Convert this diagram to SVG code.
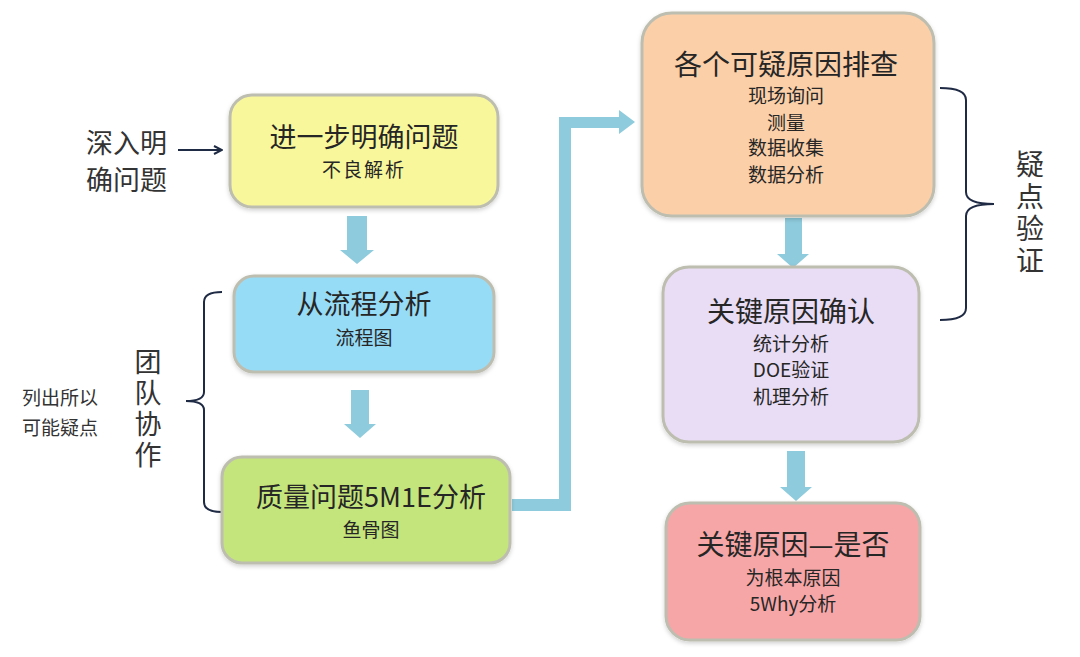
<svg xmlns="http://www.w3.org/2000/svg" width="1080" height="657" viewBox="0 0 1080 657">
<defs>
<style>
.box{stroke:#bdbdb0;stroke-width:3;}
.t{font-family:"Noto Sans CJK SC","Liberation Sans",sans-serif;fill:#262626;text-anchor:middle;}
.h{font-size:27px;}
.s{font-size:19px;}
.side{font-family:"Noto Sans CJK SC","Liberation Sans",sans-serif;fill:#333;}
.vert{writing-mode:vertical-rl;}
.flow{fill:#8ecbdc;}
.br{fill:none;stroke:#1f2a44;stroke-width:2;}
</style>
<filter id="sh" x="-10%" y="-10%" width="120%" height="130%">
<feDropShadow dx="0" dy="2" stdDeviation="2" flood-color="#000" flood-opacity="0.18"/>
</filter>
<marker id="nav" markerWidth="10" markerHeight="10" refX="9" refY="5" orient="auto" markerUnits="userSpaceOnUse">
<path d="M1,1 L9,5 L1,9" fill="none" stroke="#1f2a44" stroke-width="2"/>
</marker>
</defs>
<rect width="1080" height="657" fill="#ffffff"/>

<g id="connectors">
<line x1="178" y1="150" x2="222" y2="150" stroke="#1f2a44" stroke-width="2" marker-end="url(#nav)"/>
<path class="flow" d="M347,216 H367 V250 H374 L357,264 L340,250 H347 Z"/>
<path class="flow" d="M351,390 H369 V424 H376 L360,438 L344,424 H351 Z"/>
<path class="flow" d="M512,499 H559 V117 H619 V110 L635,122 L619,134 V128 H571 V511 H512 Z"/>
<path class="flow" d="M785,218 H802 V254 H809 L793,268 L777,254 H785 Z"/>
<path class="flow" d="M787,451 H805 V487 H812 L796,501 L780,487 H787 Z"/>
<path class="br" d="M222,292 Q204,292 204,302 V392 Q204,401 186,401 Q204,401 204,410 V502 Q204,512 222,512"/>
<path class="br" d="M940,88 Q966,88 966,100 V192 Q966,204 994,204 Q966,204 966,216 V308 Q966,320 940,320"/>
</g>

<g id="n1">
<rect class="box" x="230" y="95" width="268" height="112" rx="22" fill="#f8f79c" filter="url(#sh)"/>
<text class="t h" x="364" y="147">进一步明确问题</text>
<text class="t s" x="364" y="177" letter-spacing="2">不良解析</text>
</g>

<g id="n2">
<rect class="box" x="234" y="276" width="260" height="96" rx="20" fill="#97dcf6" filter="url(#sh)"/>
<text class="t h" x="364" y="314">从流程分析</text>
<text class="t s" x="364" y="345">流程图</text>
</g>

<g id="n3">
<rect class="box" x="222" y="457" width="288" height="106" rx="20" fill="#c4e47c" filter="url(#sh)"/>
<text class="t h" x="371" y="507">质量问题5M1E分析</text>
<text class="t s" x="371" y="537">鱼骨图</text>
</g>

<g id="n4">
<rect class="box" x="642" y="13" width="292" height="203" rx="30" fill="#fbcfa8" filter="url(#sh)"/>
<text class="t" x="786" y="75" font-size="28">各个可疑原因排查</text>
<text class="t s" x="786" y="103">现场询问</text>
<text class="t s" x="786" y="130">测量</text>
<text class="t s" x="786" y="155">数据收集</text>
<text class="t s" x="786" y="182">数据分析</text>
</g>

<g id="n5">
<rect class="box" x="663" y="267" width="256" height="175" rx="26" fill="#e8ddf4" filter="url(#sh)"/>
<text class="t" x="791" y="322" font-size="28">关键原因确认</text>
<text class="t s" x="791" y="351">统计分析</text>
<text class="t s" x="791" y="377">DOE验证</text>
<text class="t s" x="791" y="404">机理分析</text>
</g>

<g id="n6">
<rect class="box" x="666" y="503" width="254" height="137" rx="24" fill="#f7a6a7" filter="url(#sh)"/>
<text class="t" x="793" y="555" font-size="28">关键原因—是否</text>
<text class="t s" x="793" y="585">为根本原因</text>
<text class="t s" x="793" y="611">5Why分析</text>
</g>

<g id="labels">
<text class="side" x="86" y="153" font-size="27">深入明</text>
<text class="side" x="86" y="190" font-size="27">确问题</text>
<text class="side vert" x="148" y="348" font-size="27" letter-spacing="4">团队协作</text>
<text class="side" x="22" y="405" font-size="19">列出所以</text>
<text class="side" x="22" y="435" font-size="19">可能疑点</text>
<text class="side vert" x="1030" y="150" font-size="28" letter-spacing="4">疑点验证</text>
</g>
</svg>
